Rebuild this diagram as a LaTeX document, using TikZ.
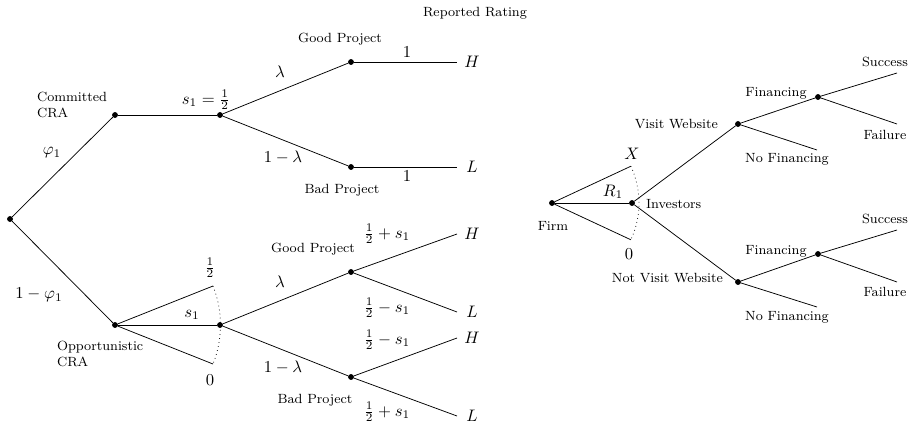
\documentclass[tikz,border=0pt]{standalone}
\usepackage{amsmath, amssymb}
\usepackage{tikz}
\usetikzlibrary{calc}
\usetikzlibrary{positioning}
\tikzset{
  dec_node/.style = {circle, fill=black, draw=black, inner sep=0pt,
    minimum size=3pt},                          % decision node
  txt_node/.style = {inner sep=1pt, font=\footnotesize},   % word label
  txt_left/.style = {txt_node, align=left, anchor=west},   % two-line label
  mth_node/.style = {inner sep=1pt}             % math label
}

\begin{document}
\begin{tikzpicture}[x=0.6pt, y=-0.6pt, line width=0.45pt]
    \useasboundingbox (0,0) rectangle (913,426);
    \node [txt_node] (rep) at (475,13) {Reported Rating};

    % committed CRA branch
    \node [dec_node] (root) at (10,219) {};
    \node [dec_node] (com) at (115,115) {};
    \node [dec_node] (com_s) at (220,115) {};
    \node [dec_node] (com_g) at (351,62) {};
    \node [dec_node] (com_b) at (351,167) {};
    \coordinate (com_gH) at (457,62);
    \coordinate (com_bL) at (457,167);
    \draw (root) -- (com);
    \draw (com) -- (com_s);
    \draw (com_s) -- (com_g);
    \draw (com_s) -- (com_b);
    \draw (com_g) -- (com_gH);
    \draw (com_b) -- (com_bL);
    \node [txt_left] (com_lbl) at (35,105) {Committed\\CRA};
    \node [mth_node] (phi) at (52,153) {$\varphi_1$};
    \node [mth_node, inner sep=0pt] (com_sl) at (206,100) {$s_1=\frac{1}{2}$};
    \node [mth_node] (com_lam) at (280,72) {$\lambda$};
    \node [mth_node] (com_nlam) at (283,157) {$1-\lambda$};
    \node [mth_node] (com_one1) at (407,52) {$1$};
    \node [mth_node] (com_one2) at (407,176) {$1$};
    \node [txt_node] (com_gp) at (340,39) {Good Project};
    \node [txt_node] (com_bp) at (342,190) {Bad Project};
    \node [mth_node] (com_H) at (472,62) {$H$};
    \node [mth_node] (com_L) at (472,167) {$L$};

    % opportunistic CRA branch
    \node [dec_node] (opp) at (115,325) {};
    \node [dec_node] (opp_s) at (220,325) {};
    \node [dec_node] (opp_g) at (351,272) {};
    \node [dec_node] (opp_b) at (351,377) {};
    \coordinate (opp_hi) at ($(opp)+(21.7:63.3pt)$);
    \coordinate (opp_lo) at ($(opp)+(-21.7:63.3pt)$);
    \coordinate (opp_gH) at (457,234);
    \coordinate (opp_gL) at (457,312);
    \coordinate (opp_bH) at (457,338);
    \coordinate (opp_bL) at (457,416);
    \draw (root) -- (opp);
    \draw (opp) -- (opp_hi);
    \draw (opp) -- (opp_lo);
    \draw (opp) -- (opp_s);
    \draw [dotted] (opp_hi) arc [start angle=21.7, end angle=-21.7, radius=63.3pt];
    \draw (opp_s) -- (opp_g);
    \draw (opp_s) -- (opp_b);
    \draw (opp_g) -- (opp_gH);
    \draw (opp_g) -- (opp_gL);
    \draw (opp_b) -- (opp_bH);
    \draw (opp_b) -- (opp_bL);
    \node [txt_left] (opp_lbl) at (55,354) {Opportunistic\\CRA};
    \node [mth_node] (nphi) at (39,295) {$1-\varphi_1$};
    \node [mth_node] (opp_half) at (210,268) {$\frac{1}{2}$};
    \node [mth_node] (opp_zero) at (210,380) {$0$};
    \node [mth_node] (opp_sl) at (192,315) {$s_1$};
    \node [mth_node] (opp_lam) at (280,282) {$\lambda$};
    \node [mth_node] (opp_nlam) at (283,367) {$1-\lambda$};
    \node [txt_node] (opp_gp) at (313,249) {Good Project};
    \node [txt_node] (opp_bp) at (315,400) {Bad Project};
    \node [mth_node] (opp_p1) at (387,234) {$\frac{1}{2}+s_1$};
    \node [mth_node] (opp_m1) at (387,308) {$\frac{1}{2}-s_1$};
    \node [mth_node] (opp_m2) at (387,340) {$\frac{1}{2}-s_1$};
    \node [mth_node] (opp_p2) at (387,412) {$\frac{1}{2}+s_1$};
    \node [mth_node] (opp_H1) at (472,234) {$H$};
    \node [mth_node] (opp_L1) at (472,312) {$L$};
    \node [mth_node] (opp_H2) at (472,338) {$H$};
    \node [mth_node] (opp_L2) at (472,416) {$L$};

    % firm and investors
    \node [dec_node] (firm) at (552,203) {};
    \node [dec_node] (inv) at (632,203) {};
    \coordinate (firm_hi) at ($(firm)+(25:52.2pt)$);
    \coordinate (firm_lo) at ($(firm)+(-25:52.2pt)$);
    \draw (firm) -- (firm_hi);
    \draw (firm) -- (firm_lo);
    \draw (firm) -- (inv);
    \draw [dotted] (firm_hi) arc [start angle=25, end angle=-25, radius=52.2pt];
    \node [mth_node] (firm_X) at (632,154) {$X$};
    \node [mth_node] (firm_zero) at (629,254) {$0$};
    \node [mth_node] (firm_R) at (613,192) {$R_1$};
    \node [txt_node] (firm_lbl) at (553,226) {Firm};
    \node [txt_node, anchor=west] (inv_lbl) at (644,204) {Investors};

    \node [dec_node] (vis) at (738,124) {};
    \node [dec_node] (nvis) at (738,282) {};
    \draw (inv) -- (vis);
    \draw (inv) -- (nvis);
    \node [txt_node, anchor=east] (vis_lbl) at (720,124) {Visit Website};
    \node [txt_node, anchor=east] (nvis_lbl) at (725,278) {Not Visit Website};

    % financing stages
    \node [dec_node] (vis_f) at (818,97) {};
    \node [dec_node] (nvis_f) at (818,254) {};
    \coordinate (vis_nf) at (817,150);
    \coordinate (nvis_nf) at (817,307);
    \coordinate (vis_suc) at (897,73);
    \coordinate (vis_fail) at (897,124);
    \coordinate (nvis_suc) at (897,230);
    \coordinate (nvis_fail) at (897,282);
    \draw (vis) -- (vis_f);
    \draw (vis) -- (vis_nf);
    \draw (vis_f) -- (vis_suc);
    \draw (vis_f) -- (vis_fail);
    \draw (nvis) -- (nvis_f);
    \draw (nvis) -- (nvis_nf);
    \draw (nvis_f) -- (nvis_suc);
    \draw (nvis_f) -- (nvis_fail);
    \node [txt_node] (vis_fl) at (776,93) {Financing};
    \node [txt_node] (vis_nfl) at (787,159) {No Financing};
    \node [txt_node] (vis_sl) at (885,62) {Success};
    \node [txt_node] (vis_faill) at (885,135) {Failure};
    \node [txt_node] (nvis_fl) at (776,251) {Financing};
    \node [txt_node] (nvis_nfl) at (787,317) {No Financing};
    \node [txt_node] (nvis_sl) at (885,219) {Success};
    \node [txt_node] (nvis_faill) at (885,292) {Failure};
\end{tikzpicture}
\end{document}
